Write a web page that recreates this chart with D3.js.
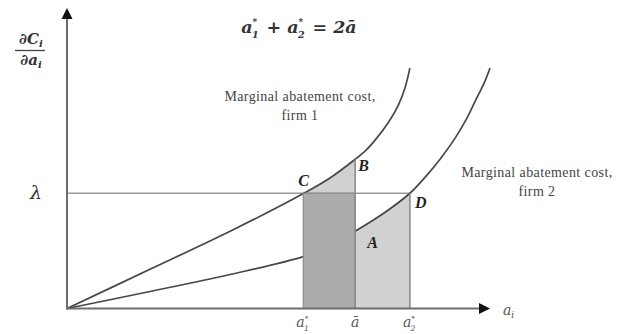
<!DOCTYPE html>
<html>
<head>
<meta charset="utf-8">
<script src="https://cdn.jsdelivr.net/npm/d3@7"></script>
<style>
  html, body { margin: 0; padding: 0; background: #fff; }
  svg { display: block; }
</style>
</head>
<body>
<svg id="chart" width="621" height="334"></svg>
<script>
// Abatement levels (horizontal) and marginal abatement cost (vertical)
const firm1Abatement = [0, 1.44, 2.83, 4.11, 4.57, 5.0, 5.19, 5.36, 5.57, 5.75, 5.87, 5.95];
const firm1Cost      = [0, 1.36, 2.68, 4.0, 4.54, 5.18, 5.50, 5.88, 6.44, 7.06, 7.69, 8.35];
const firm2Abatement = [0, 1.44, 2.83, 4.11, 4.57, 5.0, 5.52, 5.95, 6.22, 6.48, 6.74, 6.93, 7.10, 7.24, 7.34];
const firm2Cost      = [0, 0.59, 1.18, 1.81, 2.19, 2.68, 3.34, 4.0, 4.57, 5.20, 5.93, 6.57, 7.27, 7.83, 8.35];

// Key levels on the axes
const lambda = 4.0;          // common marginal cost (permit price)
const a1Star = 4.1;          // firm 1 abatement
const aBar = 5.0;            // uniform standard
const a2Star = 5.95;         // firm 2 abatement
const xMax = 7.34, yMax = 10.43;

const pointLabels = ["C", "B", "D", "A"];

const svg = d3.select("#chart");
const x = d3.scaleLinear().domain([0, xMax]).range([67, 490]);
const y = d3.scaleLinear().domain([0, yMax]).range([308.5, 8]);

const mac1 = firm1Abatement.map((a, i) => [a, firm1Cost[i]]);
const mac2 = firm2Abatement.map((a, i) => [a, firm2Cost[i]]);

const smooth = d3.curveCatmullRom.alpha(0.5);
const line = d3.line().x(d => x(d[0])).y(d => y(d[1])).curve(smooth);
const under = d3.area().x(d => x(d[0])).y0(y(0)).y1(d => y(d[1])).curve(smooth);

const defs = svg.append("defs");
defs.append("clipPath").attr("id", "under1").append("path").attr("d", under(mac1));
defs.append("clipPath").attr("id", "under2").append("path").attr("d", under(mac2));

const LIGHT = "#d1d1d1", DARK = "#ababab", EDGE = "#8c8c8c", CURVE = "#474747", AXIS = "#6e6e6e";

// Extra cost for firm 1 above lambda (between a1* and a-bar)
svg.append("rect")
  .attr("x", x(a1Star)).attr("width", x(aBar) - x(a1Star))
  .attr("y", y(yMax)).attr("height", y(lambda) - y(yMax))
  .attr("fill", LIGHT).attr("clip-path", "url(#under1)");

// Cost under firm 2's curve between a-bar and a2*
svg.append("rect")
  .attr("x", x(aBar)).attr("width", x(a2Star) - x(aBar))
  .attr("y", y(yMax)).attr("height", y(0) - y(yMax))
  .attr("fill", LIGHT).attr("clip-path", "url(#under2)");

// Lambda level
svg.append("line")
  .attr("x1", x(0)).attr("x2", x(a2Star))
  .attr("y1", y(lambda)).attr("y2", y(lambda))
  .attr("stroke", "#9a9a9a").attr("stroke-width", 1.6);

// Marginal abatement cost curves
svg.append("path").attr("d", line(mac1)).attr("fill", "none")
  .attr("stroke", CURVE).attr("stroke-width", 1.7);
svg.append("path").attr("d", line(mac2)).attr("fill", "none")
  .attr("stroke", CURVE).attr("stroke-width", 1.7);

// Rectangle lambda * (a-bar - a1*)
svg.append("rect")
  .attr("x", x(a1Star)).attr("width", x(aBar) - x(a1Star))
  .attr("y", y(lambda)).attr("height", y(0) - y(lambda))
  .attr("fill", DARK).attr("stroke", EDGE).attr("stroke-width", 1.2);

// Vertical guides at a-bar and a2*
const bCost = 5.18, dCost = lambda;
svg.append("line")
  .attr("x1", x(aBar)).attr("x2", x(aBar)).attr("y1", y(bCost)).attr("y2", y(0))
  .attr("stroke", EDGE).attr("stroke-width", 1.6);
svg.append("line")
  .attr("x1", x(a2Star)).attr("x2", x(a2Star)).attr("y1", y(dCost)).attr("y2", y(0))
  .attr("stroke", EDGE).attr("stroke-width", 1.6);

// Axes with arrow heads
svg.append("line")
  .attr("x1", x(0)).attr("x2", x(0)).attr("y1", y(0) + 1).attr("y2", y(yMax) + 8)
  .attr("stroke", AXIS).attr("stroke-width", 2);
svg.append("line")
  .attr("x1", x(0) - 1).attr("x2", x(xMax) - 8).attr("y1", y(0)).attr("y2", y(0))
  .attr("stroke", AXIS).attr("stroke-width", 2);
svg.append("path")
  .attr("d", `M${x(0)},${y(yMax)} l-5.5,11 l11,0 Z`).attr("fill", "#111");
svg.append("path")
  .attr("d", `M${x(xMax)},${y(0)} l-11,-5.5 l0,11 Z`).attr("fill", "#111");

const MATH = "'DejaVu Serif', 'Liberation Serif', serif";
const TEXT = "'Liberation Serif', 'Times New Roman', serif";

// Symbol "a" with a small star raised above its subscript index
function starred(t, idx, size) {
  t.append("tspan").text("a");
  t.append("tspan").attr("font-size", size * 0.5).attr("dy", -size * 0.45).text("*");
  t.append("tspan").attr("font-size", size * 0.55).attr("dx", -size * 0.3).attr("dy", size * 0.75).text(idx);
  t.append("tspan").attr("dy", -size * 0.3).text("\u200A");
}

// Title: a1* + a2* = 2ā
{
  const s = 17.5;
  const t = svg.append("text").attr("x", 299).attr("y", 33).attr("text-anchor", "middle")
    .attr("font-family", MATH).attr("font-weight", "bold").attr("font-style", "italic")
    .attr("font-size", s).attr("fill", "#333");
  starred(t, "1", s);
  t.append("tspan").text(" + ");
  starred(t, "2", s);
  t.append("tspan").text(" = 2\u0101");
}

// Y-axis title: ∂C_i / ∂a_i
{
  const g = svg.append("g").attr("font-family", MATH).attr("font-weight", "bold")
    .attr("font-style", "italic").attr("fill", "#333").attr("font-size", 15);
  const n = g.append("text").attr("x", 31).attr("y", 44).attr("text-anchor", "middle");
  n.append("tspan").text("\u2202C");
  n.append("tspan").attr("font-size", 10).attr("dy", 3).text("i");
  g.append("line").attr("x1", 15).attr("x2", 45).attr("y1", 50.5).attr("y2", 50.5)
    .attr("stroke", "#444").attr("stroke-width", 1.3);
  const d = g.append("text").attr("x", 31).attr("y", 65).attr("text-anchor", "middle");
  d.append("tspan").text("\u2202a");
  d.append("tspan").attr("font-size", 10).attr("dy", 3).text("i");
}

// Lambda
svg.append("text").attr("x", 36).attr("y", y(lambda) + 6).attr("text-anchor", "middle")
  .attr("font-family", MATH).attr("font-style", "italic").attr("font-size", 19)
  .attr("fill", "#333").text("\u03BB");

// Horizontal axis labels
{
  const s = 14;
  const mk = (xv) => svg.append("text").attr("x", x(xv)).attr("y", 327).attr("text-anchor", "middle")
    .attr("font-family", MATH).attr("font-style", "italic").attr("font-size", s).attr("fill", "#555");
  starred(mk(a1Star), "1", s);
  mk(aBar).text("\u0101");
  starred(mk(a2Star), "2", s);
  const ai = svg.append("text").attr("x", 503).attr("y", 315)
    .attr("font-family", MATH).attr("font-style", "italic").attr("font-size", s).attr("fill", "#555");
  ai.append("tspan").text("a");
  ai.append("tspan").attr("font-size", 9).attr("dy", 3).text("i");
}

// Point labels
const labelPos = [[a1Star, lambda, -5, -7], [aBar, bCost, 3, 12], [a2Star, dCost, 5, 15], [aBar, 2.68, 12, 17]];
svg.selectAll("text.pt").data(pointLabels).join("text").attr("class", "pt")
  .attr("x", (d, i) => x(labelPos[i][0]) + labelPos[i][2])
  .attr("y", (d, i) => y(labelPos[i][1]) + labelPos[i][3])
  .attr("font-family", TEXT).attr("font-weight", "bold").attr("font-style", "italic")
  .attr("font-size", 16).attr("fill", "#222").text(d => d);

// Curve captions
const captions = [
  { lines: ["Marginal abatement cost,", "firm 1"], cx: 300, y0: 101 },
  { lines: ["Marginal abatement cost,", "firm 2"], cx: 537, y0: 177 }
];
captions.forEach(c => {
  c.lines.forEach((l, i) => {
    svg.append("text").attr("x", c.cx).attr("y", c.y0 + i * 18.5).attr("text-anchor", "middle")
      .attr("font-family", TEXT).attr("font-size", 14).attr("letter-spacing", 0.4)
      .attr("fill", "#444").text(l);
  });
});
</script>
</body>
</html>
